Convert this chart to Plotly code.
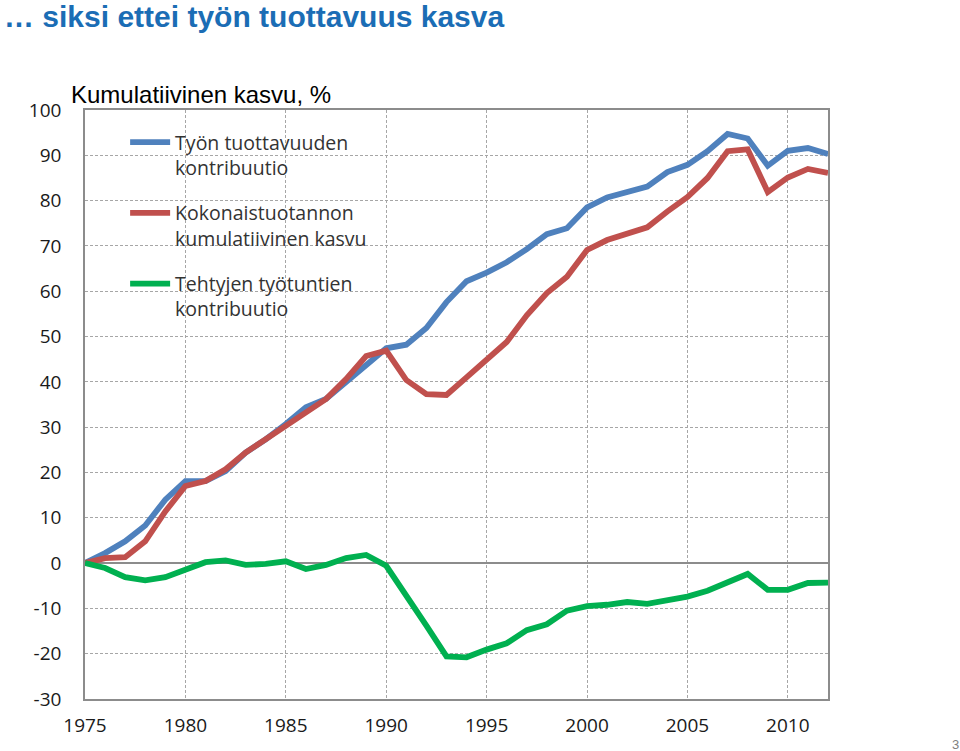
import plotly.graph_objects as go

years = list(range(1975, 2013))

tuottavuus = [0.0, 2.2, 4.8, 8.3, 14.0, 18.1, 18.1, 20.3, 24.4, 27.3,
              30.7, 34.4, 36.2, 39.9, 44.0, 47.4, 48.2, 51.9, 57.6, 62.2,
              64.1, 66.4, 69.3, 72.6, 73.9, 78.5, 80.7, 81.8, 83.1, 86.3,
              87.9, 90.9, 94.7, 93.7, 87.7, 91.0, 91.6, 90.3]

kokonaistuotanto = [0.0, 1.1, 1.3, 4.8, 11.4, 17.0, 18.1, 20.7, 24.4, 27.3,
                    30.4, 33.3, 36.2, 40.6, 45.7, 46.9, 40.4, 37.3, 37.1, 41.0,
                    45.1, 48.8, 54.7, 59.6, 63.2, 69.1, 71.3, 72.8, 74.1, 77.6,
                    80.8, 85.0, 90.9, 91.3, 81.9, 85.1, 87.0, 86.1]

tyotunnit = [0.0, -1.1, -3.1, -3.8, -3.1, -1.5, 0.2, 0.6, -0.4, -0.2,
             0.4, -1.3, -0.4, 1.1, 1.8, -0.6, -7.0, -13.8, -20.6, -20.8,
             -19.1, -17.7, -14.8, -13.5, -10.5, -9.5, -9.2, -8.6, -9.0, -8.1,
             -7.4, -6.1, -4.1, -2.4, -5.9, -5.9, -4.4, -4.3]

series_names = ["Työn tuottavuuden<br>kontribuutio",
                "Kokonaistuotannon<br>kumulatiivinen kasvu",
                "Tehtyjen työtuntien<br>kontribuutio"]
series_colors = ["#4f81bd", "#c0504d", "#00b050"]

x_ticks = [1975, 1980, 1985, 1990, 1995, 2000, 2005, 2010]
x_labels = [str(v) for v in x_ticks]
y_ticks = list(range(-30, 101, 10))
y_labels = [str(v) for v in y_ticks]

title_text = "… siksi ettei työn tuottavuus kasva"
subtitle_text = "Kumulatiivinen kasvu, %"
page_number = "3"

fig = go.Figure()
for i, (name, vals, col) in enumerate(zip(series_names,
                                          [tuottavuus, kokonaistuotanto, tyotunnit],
                                          series_colors)):
    fig.add_trace(go.Scatter(x=years, y=vals, mode="lines", name=name,
                             legendgroup=f"g{i}", hoverinfo="skip",
                             line=dict(color=col, width=5.8)))

grid_col = "#a6a6a6"
axis_col = "#8c8c8c"
tick_font = dict(family="Open Sans, Lato, sans-serif", size=19, color="#1a1a1a")

# white legend panel (covers gridlines, under the lines)
fig.add_shape(type="rect", xref="paper", yref="paper",
              x0=0.02, x1=0.42, y0=0.621, y1=0.986,
              fillcolor="white", line=dict(width=0), layer="between")

fig.update_layout(
    width=960, height=751,
    margin=dict(l=85, r=132, t=110, b=52, autoexpand=False),
    paper_bgcolor="white", plot_bgcolor="white",
    showlegend=True,
    legend=dict(x=0.054, y=0.978, xanchor="left", yanchor="top",
                bgcolor="rgba(0,0,0,0)", borderwidth=0,
                font=dict(family="Open Sans, Lato, sans-serif", size=19.5, color="#333333"),
                tracegroupgap=17, itemwidth=40, valign="top"),
    xaxis=dict(range=[1975, 2012], tickvals=x_ticks, ticktext=x_labels,
               showgrid=True, gridcolor=grid_col, griddash="3px,2px", gridwidth=1,
               showline=True, linecolor=axis_col, linewidth=1.5, mirror=True,
               ticks="outside", ticklen=8, tickcolor="rgba(0,0,0,0)",
               tickfont=tick_font, zeroline=False, fixedrange=True,
               automargin=False),
    yaxis=dict(range=[-30, 100], tickvals=y_ticks, ticktext=y_labels,
               showgrid=True, gridcolor=grid_col, griddash="3px,2px", gridwidth=1,
               showline=True, linecolor=axis_col, linewidth=1.5, mirror=True,
               ticks="outside", ticklen=18, tickcolor="rgba(0,0,0,0)",
               tickfont=tick_font,
               zeroline=True, zerolinecolor=axis_col, zerolinewidth=1.5,
               fixedrange=True, automargin=False),
    annotations=[
        dict(text="<b>" + title_text + "</b>", xref="paper", yref="paper",
             x=-0.112, y=1.158,
             xanchor="left", yanchor="middle", showarrow=False,
             font=dict(family="Liberation Sans, Arial, sans-serif", size=30,
                       color="#1b6db5")),
        dict(text=subtitle_text, xref="paper", yref="paper", x=-0.021, y=1.0255,
             xanchor="left", yanchor="middle", showarrow=False,
             font=dict(family="Liberation Sans, Arial, sans-serif", size=24,
                       color="#000000")),
        dict(text=page_number, xref="paper", yref="paper", x=1.1715, y=-0.0765,
             xanchor="center", yanchor="middle", showarrow=False,
             font=dict(family="Liberation Sans, Arial, sans-serif", size=13,
                       color="#808080")),
    ],
)

fig.write_html("out.html", config={"displayModeBar": False},
               post_script="document.body.style.margin='0';document.body.style.overflow='hidden';")
